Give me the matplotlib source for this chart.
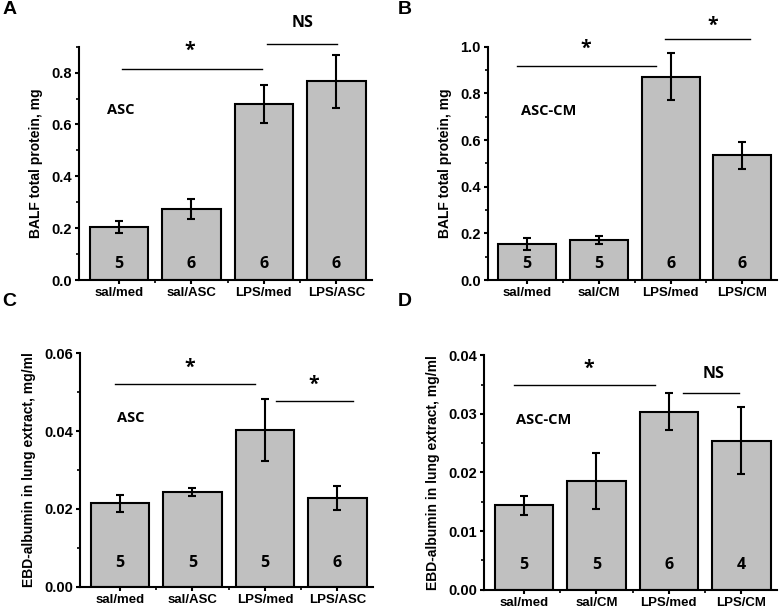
import numpy as np
import matplotlib
matplotlib.use("Agg")
import matplotlib.pyplot as plt
from matplotlib.ticker import MultipleLocator

# group labels
labels_asc = ["sal/med", "sal/ASC", "LPS/med", "LPS/ASC"]
labels_cm = ["sal/med", "sal/CM", "LPS/med", "LPS/CM"]

# A: BALF total protein, ASC
a_mean = [0.204, 0.274, 0.679, 0.767]
a_err = [0.024, 0.037, 0.073, 0.102]
a_n = [5, 6, 6, 6]

# B: BALF total protein, ASC-CM
b_mean = [0.154, 0.171, 0.871, 0.534]
b_err = [0.027, 0.018, 0.101, 0.057]
b_n = [5, 5, 6, 6]

# C: EBD-albumin, ASC
c_mean = [0.0214, 0.0243, 0.0402, 0.0229]
c_err = [0.0021, 0.0011, 0.0080, 0.0031]
c_n = [5, 5, 5, 6]

# D: EBD-albumin, ASC-CM
d_mean = [0.0144, 0.0186, 0.0304, 0.0254]
d_err = [0.0016, 0.0048, 0.0031, 0.0057]
d_n = [5, 5, 6, 4]

BOLD = "Liberation Sans"
INNER = "Open Sans"

fig = plt.figure(figsize=(7.79, 6.07), dpi=100)


def panel(rect, labels, mean, err, n, ymax, major, minor, ylabel, tag, tag_xy,
          group, group_xy, n_y, sig):
    ax = fig.add_axes(rect)
    x = np.arange(len(mean))
    ax.bar(x, mean, width=0.81, color="#c0c0c0", edgecolor="black", linewidth=1.5)
    ax.errorbar(x, mean, yerr=err, fmt="none", ecolor="black", elinewidth=1.5,
                capsize=3, capthick=1.5)
    for xi, ni in zip(x, n):
        ax.text(xi, n_y, str(ni), ha="center", va="center", fontsize=11.5,
                fontweight="bold", family=INNER)
    # significance bars
    for x0, x1, yl, txt, tx, ty in sig:
        ax.plot([x0, x1], [yl, yl], color="black", lw=1, clip_on=False)
        ax.text(tx, ty, txt, ha="center", va="center", fontsize=11.5 if txt == "NS" else 14,
                fontweight="bold", family=INNER)
    ax.text(group_xy[0], group_xy[1], group, ha="center", va="center", fontsize=10.5,
            fontweight="bold", family=INNER)
    ax.set_xlim(-0.55, 3.49)
    ax.set_ylim(0, ymax)
    ax.yaxis.set_major_locator(MultipleLocator(major))
    ax.yaxis.set_minor_locator(MultipleLocator(minor))
    ax.set_xticks(x)
    ax.set_xticks([0.5, 1.5, 2.5], minor=True)
    ax.set_xticklabels(labels)
    ax.spines["top"].set_visible(False)
    ax.spines["right"].set_visible(False)
    for s in ("left", "bottom"):
        ax.spines[s].set_linewidth(1.5)
    ax.tick_params(which="major", direction="out", length=3, width=1.5)
    ax.tick_params(axis="x", which="major", labelsize=9.5, pad=2)
    ax.tick_params(axis="y", which="major", labelsize=10.5, pad=2)
    ax.tick_params(which="minor", direction="out", length=2, width=1.2)
    for lab in ax.get_xticklabels() + ax.get_yticklabels():
        lab.set_fontweight("bold")
        lab.set_family(BOLD)
    ax.set_ylabel(ylabel, fontsize=10, fontweight="bold", family=BOLD, labelpad=6)
    fig.text(tag_xy[0], tag_xy[1], tag, fontsize=14, fontweight="bold", family=BOLD,
             ha="left", va="top")
    return ax


panel([0.1014, 0.5387, 0.376, 0.3844], labels_asc, a_mean, a_err, a_n, 0.9, 0.2, 0.1,
      "BALF total protein, mg", "A", (0.003, 0.998), "ASC", (0.03, 0.654), 0.062,
      [(0.05, 1.98, 0.812, "*", 0.98, 0.885), (2.04, 3.01, 0.912, "NS", 2.53, 0.99)])

panel([0.626, 0.5387, 0.372, 0.3844], labels_cm, b_mean, b_err, b_n, 1.0, 0.2, 0.1,
      "BALF total protein, mg", "B", (0.51, 0.998), "ASC-CM", (0.3, 0.724), 0.069,
      [(-0.14, 1.8, 0.917, "*", 0.82, 0.99), (1.92, 3.11, 1.033, "*", 2.59, 1.09)])

panel([0.1027, 0.0334, 0.376, 0.3845], labels_asc, c_mean, c_err, c_n, 0.06, 0.02, 0.01,
      "EBD-albumin in lung extract, mg/ml", "C", (0.003, 0.518), "ASC", (0.15, 0.0433), 0.006,
      [(-0.07, 1.87, 0.052, "*", 0.96, 0.0562), (2.16, 3.22, 0.0478, "*", 2.67, 0.0519)])

panel([0.6213, 0.0287, 0.376, 0.386], labels_cm, d_mean, d_err, d_n, 0.04, 0.01, 0.005,
      "EBD-albumin in lung extract, mg/ml", "D", (0.51, 0.518), "ASC-CM", (0.27, 0.0289), 0.0042,
      [(-0.13, 1.81, 0.0349, "*", 0.9, 0.0377), (2.19, 2.97, 0.0336, "NS", 2.62, 0.0368)])

fig.savefig("out.png", dpi=100)
